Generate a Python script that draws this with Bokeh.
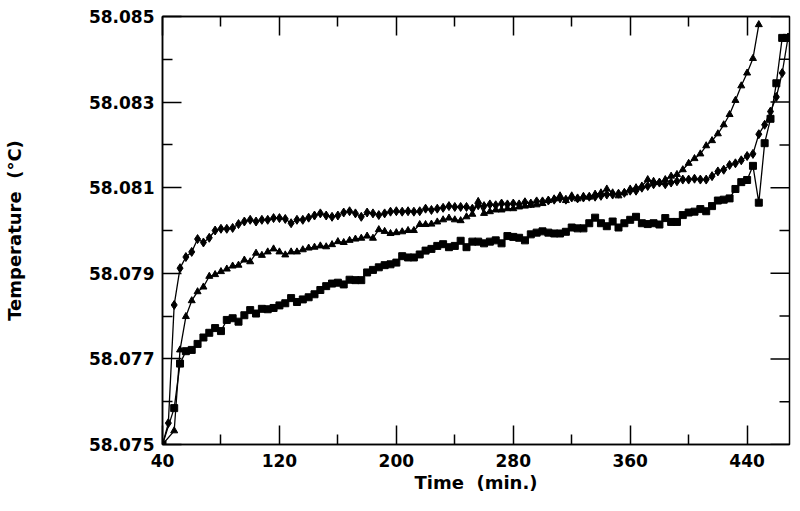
import math
from bokeh.plotting import figure
from bokeh.models import FixedTicker, Range1d, PrintfTickFormatter, LinearAxis, CustomLabelingPolicy
from bokeh.embed import file_html
from bokeh.resources import INLINE

# ---- data ----
dia_t = [40, 44, 48, 52, 56, 60, 64, 68, 72, 76, 80, 84, 88, 92, 96, 100, 104, 108, 112, 116,
         120, 124, 128, 132, 136, 140, 144, 148, 152, 156, 160, 164, 168, 172, 176, 180, 184, 188,
         192, 196, 200, 204, 208, 212, 216, 220, 224, 228, 232, 236, 240, 244, 248, 252, 256, 260,
         264, 268, 272, 276, 280, 284, 288, 292, 296, 300, 304, 308, 312, 316, 320, 324, 328, 332,
         336, 340, 344, 348, 352, 356, 360, 364, 368, 372, 376, 380, 384, 388, 392, 396, 400, 404,
         408, 412, 416, 420, 424, 428, 432, 436, 440, 444, 448, 452, 456, 460, 464, 468]
dia_T = [58.07500, 58.07550, 58.07826, 58.07912, 58.07938, 58.07950, 58.07980, 58.07972, 58.07983,
         58.08000, 58.08004, 58.08004, 58.08006, 58.08015, 58.08021, 58.08025, 58.08021, 58.08025,
         58.08025, 58.08029, 58.08029, 58.08027, 58.08017, 58.08025, 58.08025, 58.08030, 58.08035,
         58.08040, 58.08035, 58.08032, 58.08035, 58.08042, 58.08045, 58.08040, 58.08032, 58.08042,
         58.08040, 58.08036, 58.08040, 58.08044, 58.08045, 58.08044, 58.08045, 58.08044, 58.08045,
         58.08051, 58.08048, 58.08051, 58.08053, 58.08057, 58.08055, 58.08055, 58.08055, 58.08051,
         58.08059, 58.08057, 58.08061, 58.08059, 58.08063, 58.08061, 58.08063, 58.08061, 58.08066,
         58.08063, 58.08068, 58.08068, 58.08070, 58.08072, 58.08075, 58.08072, 58.08077, 58.08075,
         58.08077, 58.08079, 58.08079, 58.08081, 58.08084, 58.08084, 58.08086, 58.08088, 58.08093,
         58.08093, 58.08100, 58.08104, 58.08108, 58.08112, 58.08108, 58.08112, 58.08115, 58.08119,
         58.08119, 58.08121, 58.08119, 58.08119, 58.08127, 58.08138, 58.08142, 58.08153, 58.08157,
         58.08164, 58.08174, 58.08179, 58.08225, 58.08247, 58.08278, 58.08312, 58.08368, 58.08451]

tri_t = [40, 48, 52, 56, 60, 64, 68, 72, 76, 80, 84, 88, 92, 96, 100, 104, 108, 112, 116, 120,
         124, 128, 132, 136, 140, 144, 148, 152, 156, 160, 164, 168, 172, 176, 180, 184, 188, 192,
         196, 200, 204, 208, 212, 216, 220, 224, 228, 232, 236, 240, 244, 248, 252, 256, 260, 264,
         268, 272, 276, 280, 284, 288, 292, 296, 300, 304, 308, 312, 316, 320, 324, 328, 332, 336,
         340, 344, 348, 352, 356, 360, 364, 368, 372, 376, 380, 384, 388, 392, 396, 400, 404, 408,
         412, 416, 420, 424, 428, 432, 436, 440, 444, 448]
tri_T = [58.07500, 58.07532, 58.07721, 58.07799, 58.07836, 58.07857, 58.07868, 58.07893, 58.07897,
         58.07904, 58.07910, 58.07917, 58.07919, 58.07931, 58.07927, 58.07947, 58.07942, 58.07950,
         58.07957, 58.07950, 58.07943, 58.07950, 58.07950, 58.07955, 58.07959, 58.07961, 58.07964,
         58.07962, 58.07967, 58.07974, 58.07972, 58.07977, 58.07980, 58.07982, 58.07987, 58.07982,
         58.08002, 58.07998, 58.07993, 58.07995, 58.07997, 58.08000, 58.08000, 58.08014, 58.08014,
         58.08015, 58.08020, 58.08025, 58.08029, 58.08025, 58.08023, 58.08032, 58.08038, 58.08068,
         58.08040, 58.08044, 58.08048, 58.08048, 58.08051, 58.08051, 58.08055, 58.08057, 58.08059,
         58.08060, 58.08063, 58.08070, 58.08074, 58.08081, 58.08070, 58.08081, 58.08074, 58.08080,
         58.08078, 58.08085, 58.08088, 58.08097, 58.08088, 58.08081, 58.08088, 58.08097, 58.08100,
         58.08104, 58.08119, 58.08115, 58.08112, 58.08119, 58.08127, 58.08131, 58.08142, 58.08157,
         58.08168, 58.08179, 58.08198, 58.08210, 58.08226, 58.08247, 58.08271, 58.08304, 58.08338,
         58.08368, 58.08402, 58.08481]

sq_t = [40, 48, 52, 56, 60, 64, 68, 72, 76, 80, 84, 88, 92, 96, 100, 104, 108, 112, 116, 120,
        124, 128, 132, 136, 140, 144, 148, 152, 156, 160, 164, 168, 172, 176, 180, 184, 188, 192,
        196, 200, 204, 208, 212, 216, 220, 224, 228, 232, 236, 240, 244, 248, 252, 256, 260, 264,
        268, 272, 276, 280, 284, 288, 292, 296, 300, 304, 308, 312, 316, 320, 324, 328, 332, 336,
        340, 344, 348, 352, 356, 360, 364, 368, 372, 376, 380, 384, 388, 392, 396, 400, 404, 408,
        412, 416, 420, 424, 428, 432, 436, 440, 444, 448, 452, 456, 460, 464, 467]
sq_T = [58.07500, 58.07585, 58.07689, 58.07718, 58.07721, 58.07735, 58.07750, 58.07761, 58.07772,
        58.07765, 58.07791, 58.07795, 58.07787, 58.07802, 58.07814, 58.07806, 58.07817, 58.07816,
        58.07819, 58.07825, 58.07830, 58.07842, 58.07833, 58.07839, 58.07844, 58.07851, 58.07861,
        58.07870, 58.07876, 58.07878, 58.07874, 58.07885, 58.07884, 58.07884, 58.07902, 58.07908,
        58.07914, 58.07919, 58.07921, 58.07925, 58.07940, 58.07937, 58.07937, 58.07944, 58.07953,
        58.07957, 58.07964, 58.07968, 58.07961, 58.07964, 58.07976, 58.07961, 58.07974, 58.07974,
        58.07970, 58.07974, 58.07977, 58.07970, 58.07987, 58.07985, 58.07983, 58.07977, 58.07991,
        58.07995, 58.07998, 58.07995, 58.07993, 58.07993, 58.07997, 58.08007, 58.08005, 58.08005,
        58.08017, 58.08030, 58.08017, 58.08010, 58.08021, 58.08007, 58.08017, 58.08025, 58.08032,
        58.08017, 58.08015, 58.08017, 58.08014, 58.08029, 58.08020, 58.08020, 58.08036, 58.08042,
        58.08044, 58.08050, 58.08045, 58.08057, 58.08070, 58.08072, 58.08075, 58.08097, 58.08113,
        58.08118, 58.08151, 58.08065, 58.08204, 58.08261, 58.08344, 58.08450, 58.08450]

x_major = [40, 120, 200, 280, 360, 440]
x_minor = [80, 160, 240, 320, 400]
y_major = [58.075, 58.077, 58.079, 58.081, 58.083, 58.085]
y_minor = [58.076, 58.078, 58.080, 58.082, 58.084]

x_title = "Time\u00a0\u00a0(min.)"
y_title = "Temperature\u00a0\u00a0(\u00b0C)"

FONT = "DejaVu Sans"
MAJ, MIN = 19, 10

p = figure(width=792, height=495, x_range=Range1d(40, 469), y_range=Range1d(58.075, 58.085),
           output_backend="svg", toolbar_location=None,
           min_border_left=154, min_border_right=3, min_border_top=6, min_border_bottom=50)
p.xgrid.visible = False
p.ygrid.visible = False
p.outline_line_color = "black"
p.outline_line_width = 1.5
p.background_fill_color = "white"
p.border_fill_color = "white"

# main series
p.line(dia_t, dia_T, line_color="black", line_width=1.3)
p.scatter(dia_t, dia_T, marker="diamond", size=9, fill_color="black", line_color="black")
p.line(tri_t, tri_T, line_color="black", line_width=1.3)
p.scatter(tri_t, tri_T, marker="triangle", size=7, fill_color="black", line_color="black")
p.line(sq_t, sq_T, line_color="black", line_width=1.3)
p.scatter(sq_t, sq_T, marker="square", size=7, fill_color="black", line_color="black")

# inward ticks on the right frame edge (half of each dash is clipped by the frame)
x_right = p.x_range.end
p.scatter([x_right] * len(y_major), y_major, marker="dash", size=2 * MAJ,
          line_color="black", line_width=1.5)
p.scatter([x_right] * len(y_minor), y_minor, marker="dash", size=2 * MIN,
          line_color="black", line_width=1.5)


def style(ax):
    ax.axis_line_color = "black"
    ax.axis_line_width = 1.5
    ax.major_tick_line_color = "black"
    ax.minor_tick_line_color = "black"
    ax.major_tick_line_width = 1.5
    ax.minor_tick_line_width = 1.5
    ax.major_tick_in = MAJ
    ax.major_tick_out = 0
    ax.minor_tick_in = MIN
    ax.minor_tick_out = 0
    ax.major_label_text_font = FONT
    ax.major_label_text_font_style = "bold"
    ax.major_label_text_font_size = "17px"
    ax.major_label_text_color = "black"
    ax.axis_label_text_font = FONT
    ax.axis_label_text_font_style = "bold"
    ax.axis_label_text_font_size = "18px"
    ax.axis_label_text_color = "black"


xa = p.xaxis[0]
xa.ticker = FixedTicker(ticks=x_major, minor_ticks=x_minor)
style(xa)
xa.major_label_standoff = 9
xa.axis_label = x_title
xa.axis_label_standoff = 2

ya = p.yaxis[0]
ya.ticker = FixedTicker(ticks=y_major, minor_ticks=y_minor)
ya.formatter = PrintfTickFormatter(format="%.3f")
style(ya)
ya.major_label_standoff = 8
ya.axis_label = y_title
ya.axis_label_standoff = 61

# top edge: an axis whose labels are all filtered out, leaving only inward ticks
top = LinearAxis(ticker=FixedTicker(ticks=x_major, minor_ticks=x_minor))
style(top)
top.major_label_standoff = 0
top.major_label_policy = CustomLabelingPolicy(
    code="for (const i of Array.from(indices)) { indices.unset(i) }\nreturn indices")
p.add_layout(top, "above")

open("out.html", "w").write(file_html(p, INLINE))
